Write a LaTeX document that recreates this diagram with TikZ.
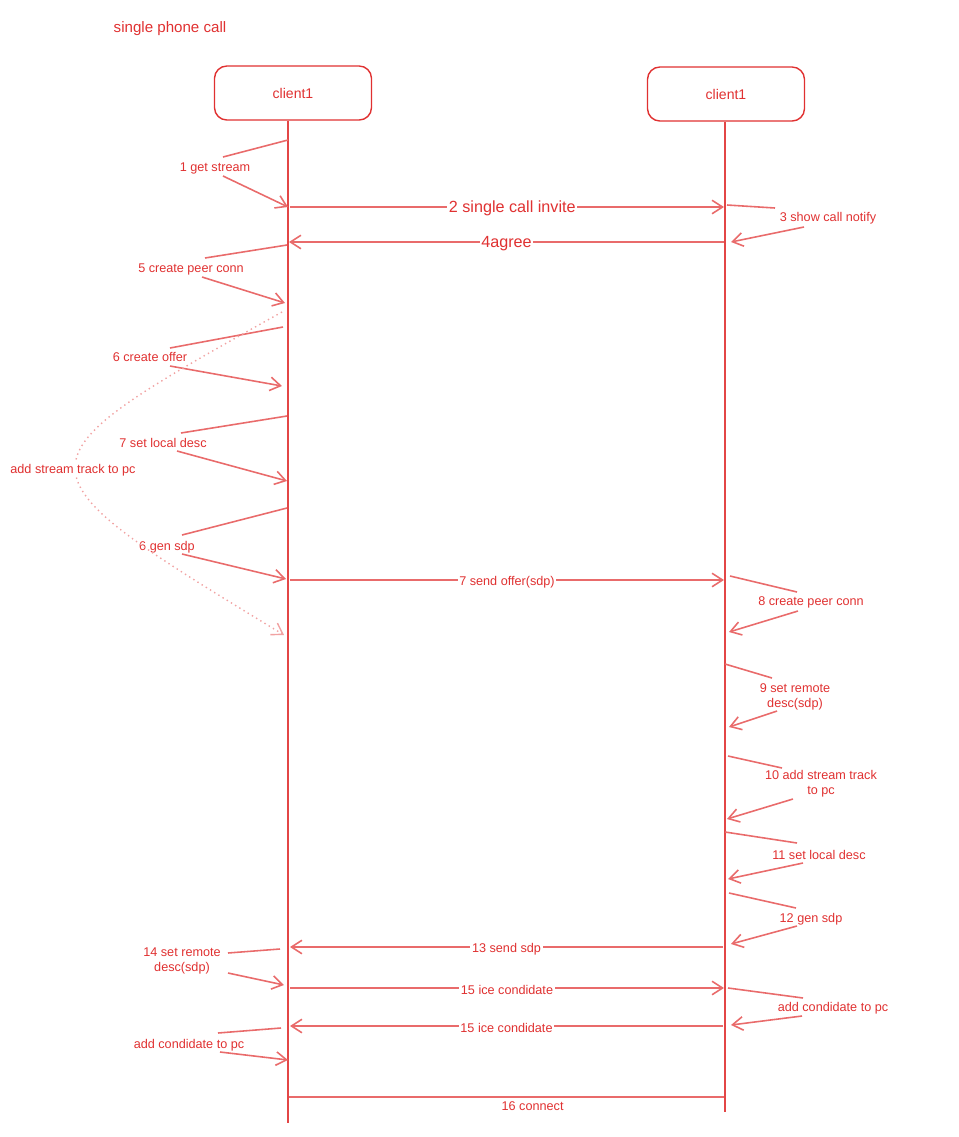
\documentclass[tikz,border=0pt]{standalone}
\usepackage{fontspec}
\setmainfont{Liberation Sans}
\usetikzlibrary{arrows.meta,positioning}
\definecolor{exred}{HTML}{E03131}
\newcommand\lblfont{\fontsize{7.2}{8.4}\selectfont}
\newcommand\headfont{\fontsize{9.2}{11}\selectfont}

\begin{document}
\begin{tikzpicture}[
        x = 0.02cm, y = -0.02cm, % one unit = one pixel
        > = {Straight Barb[length=2.1mm,width=2.7mm]}, % arrow head style
        semithick, % line style
        exred
      ]

      \tikzstyle{client}=[rectangle,rounded corners=7pt,draw=exred,line width=0.8pt,minimum width=3.14cm,minimum height=1.08cm,font=\fontsize{8}{9}\selectfont]
      \tikzstyle{msg}=[fill=white,inner sep=1pt,yshift=-1pt,font=\lblfont]
      \tikzstyle{note}=[align=center,inner sep=1pt,yshift=-1pt,font=\lblfont]
      \tikzstyle{link}=[draw=exred!72,line width=0.9pt]

      \useasboundingbox (0,0) rectangle (959,1137);

      \node[font=\fontsize{8.6}{10}\selectfont,yshift=-1.5pt] (title) at (170,26) {single phone call};
      \node[client] (c1) at (293,93) {client1};
      \node[client] (c2) at (726,94) {client1};

      % lifelines
      \coordinate (c1end) at (288,1123);
      \coordinate (c2end) at (725,1112);
      \draw[exred!90,line width=0.8pt] (c1.south -| c1end) -- (c1end);
      \draw[exred!90,line width=0.8pt] (c2.south -| c2end) -- (c2end);

      % messages between the clients
      \coordinate (m2a) at (290,207);  \coordinate (m2b) at (724,207);
      \coordinate (m4a) at (724,242);  \coordinate (m4b) at (289,242);
      \coordinate (m7a) at (290,580);  \coordinate (m7b) at (724,580);
      \coordinate (m13a) at (723,947); \coordinate (m13b) at (290,947);
      \coordinate (m15a) at (290,988); \coordinate (m15b) at (724,988);
      \coordinate (m16a) at (723,1026); \coordinate (m16b) at (290,1026);
      \coordinate (m17a) at (289,1097); \coordinate (m17b) at (724,1097);

      \draw[link,->] (m2a) -- node[msg,font=\headfont,xshift=3pt] {2 single call invite} (m2b);
      \draw[link,->] (m4a) -- node[msg,font=\headfont] {4agree} (m4b);
      \draw[link,->] (m7a) -- node[msg] {7 send offer(sdp)} (m7b);
      \draw[link,->] (m13a) -- node[msg] {13 send sdp} (m13b);
      \draw[link,->] (m15a) -- node[msg] {15 ice condidate} (m15b);
      \draw[link,->] (m16a) -- node[msg] {15 ice condidate} (m16b);
      \draw[link] (m17a) -- node[msg,fill=none,pos=0.56,yshift=-0.14cm] {16 connect} (m17b);

      % notes on client1 (left)
      \node[note] (n1) at (215,167) {1 get stream};
      \coordinate (n1a) at (288,140); \coordinate (n1b) at (223,157);
      \coordinate (n1c) at (223,176); \coordinate (n1d) at (288,207);
      \draw[link] (n1a) -- (n1b);
      \draw[link,->] (n1c) -- (n1d);

      \node[note] (n5) at (191,268) {5 create peer conn};
      \coordinate (n5a) at (287,245); \coordinate (n5b) at (205,258);
      \coordinate (n5c) at (202,277); \coordinate (n5d) at (285,303);
      \draw[link] (n5a) -- (n5b);
      \draw[link,->] (n5c) -- (n5d);

      \node[note] (n6) at (150,355) {6 create offer};
      \coordinate (n6a) at (283,327); \coordinate (n6b) at (170,348);
      \coordinate (n6c) at (170,366); \coordinate (n6d) at (282,386);
      \draw[link] (n6a) -- (n6b);
      \draw[link,->] (n6c) -- (n6d);

      \node[note] (n7) at (163,441) {7 set local desc};
      \coordinate (n7a) at (287,416); \coordinate (n7b) at (181,433);
      \coordinate (n7c) at (177,451); \coordinate (n7d) at (287,481);
      \draw[link] (n7a) -- (n7b);
      \draw[link,->] (n7c) -- (n7d);

      \node[note] (n8) at (167,545) {6 gen sdp};
      \coordinate (n8a) at (287,508); \coordinate (n8b) at (182,535);
      \coordinate (n8c) at (182,554); \coordinate (n8d) at (286,579);
      \draw[link] (n8a) -- (n8b);
      \draw[link,->] (n8c) -- (n8d);

      % dotted bow: add stream track
      \coordinate (s1) at (282,312); \coordinate (s2) at (284,635);
      \coordinate (sc) at (6,466);
      \draw[draw=exred!45,line width=0.8pt,dotted,->] (s1) .. controls (sc) .. (s2);
      \node[note,fill=white] (trk) at (73,468) {add stream track to pc};

      \node[note] (n14) at (182,959) {14 set remote\\desc(sdp)};
      \coordinate (n14a) at (280,949); \coordinate (n14b) at (228,953);
      \coordinate (n14c) at (228,973); \coordinate (n14d) at (284,985);
      \draw[link] (n14a) -- (n14b);
      \draw[link,->] (n14c) -- (n14d);

      \node[note] (n15) at (189,1043) {add condidate to pc};
      \coordinate (n15a) at (281,1028); \coordinate (n15b) at (218,1033);
      \coordinate (n15c) at (220,1052); \coordinate (n15d) at (288,1060);
      \draw[link] (n15a) -- (n15b);
      \draw[link,->] (n15c) -- (n15d);

      % notes on client1 (right)
      \node[note] (r3) at (828,216) {3 show call notify};
      \coordinate (r3a) at (727,205); \coordinate (r3b) at (775,208);
      \coordinate (r3c) at (804,227); \coordinate (r3d) at (731,242);
      \draw[link] (r3a) -- (r3b);
      \draw[link,->] (r3c) -- (r3d);

      \node[note] (r8) at (811,601) {8 create peer conn};
      \coordinate (r8a) at (730,576); \coordinate (r8b) at (797,592);
      \coordinate (r8c) at (798,611); \coordinate (r8d) at (729,632);
      \draw[link] (r8a) -- (r8b);
      \draw[link,->] (r8c) -- (r8d);

      \node[note] (r9) at (795,695) {9 set remote\\desc(sdp)};
      \coordinate (r9a) at (725,664); \coordinate (r9b) at (772,678);
      \coordinate (r9c) at (777,711); \coordinate (r9d) at (729,727);
      \draw[link] (r9a) -- (r9b);
      \draw[link,->] (r9c) -- (r9d);

      \node[note] (r10) at (821,782) {10 add stream track\\to pc};
      \coordinate (r10a) at (728,756); \coordinate (r10b) at (782,768);
      \coordinate (r10c) at (793,799); \coordinate (r10d) at (727,819);
      \draw[link] (r10a) -- (r10b);
      \draw[link,->] (r10c) -- (r10d);

      \node[note] (r11) at (819,853) {11 set local desc};
      \coordinate (r11a) at (725,832); \coordinate (r11b) at (797,843);
      \coordinate (r11c) at (803,863); \coordinate (r11d) at (728,879);
      \draw[link] (r11a) -- (r11b);
      \draw[link,->] (r11c) -- (r11d);

      \node[note] (r12) at (811,917) {12 gen sdp};
      \coordinate (r12a) at (729,893); \coordinate (r12b) at (796,908);
      \coordinate (r12c) at (797,926); \coordinate (r12d) at (731,944);
      \draw[link] (r12a) -- (r12b);
      \draw[link,->] (r12c) -- (r12d);

      \node[note] (r15) at (833,1006) {add condidate to pc};
      \coordinate (r15a) at (728,988); \coordinate (r15b) at (803,998);
      \coordinate (r15c) at (802,1016); \coordinate (r15d) at (731,1025);
      \draw[link] (r15a) -- (r15b);
      \draw[link,->] (r15c) -- (r15d);

    \end{tikzpicture}
\end{document}
